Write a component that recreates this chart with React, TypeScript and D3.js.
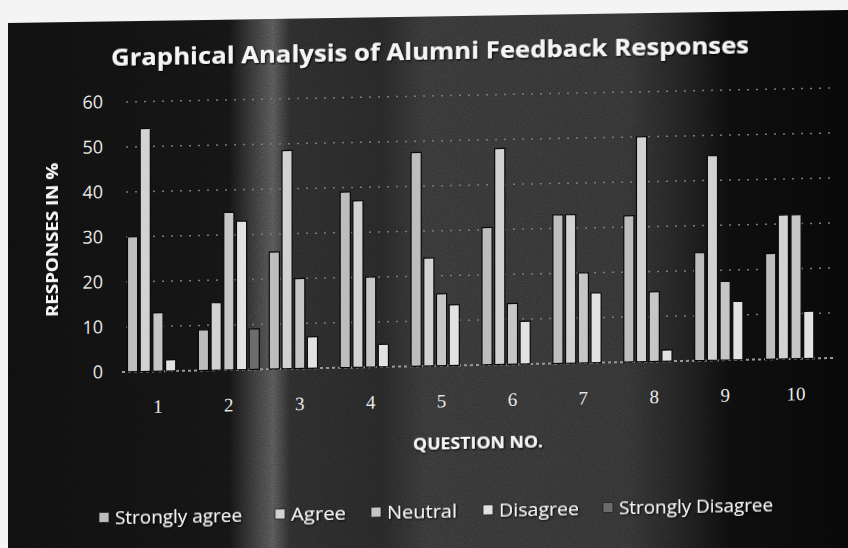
import React from "react";
import * as d3 from "d3";

const questions = ["1", "2", "3", "4", "5", "6", "7", "8", "9", "10"];
const seriesNames = ["Strongly agree", "Agree", "Neutral", "Disagree", "Strongly Disagree"];
const stronglyAgree = [30, 9, 26, 39, 47.5, 30.5, 33, 32.5, 24, 23.5];
const agree = [54, 15, 48.5, 37, 24, 48, 33, 50, 45.5, 32];
const neutral = [13, 35, 20, 20, 16, 13.5, 20, 15.5, 17.5, 32];
const disagree = [2.5, 33, 7, 5, 13.5, 9.5, 15.5, 2.5, 13, 10.5];
const stronglyDisagree = [0, 9, 0, 0, 0, 0, 0, 0, 0, 0];
const yTicks = [0, 10, 20, 30, 40, 50, 60];

const seriesValues = [stronglyAgree, agree, neutral, disagree, stronglyDisagree];
const seriesColors = ["#bdbdbd", "#d2d2d2", "#c6c6c6", "#e2e2e2", "#6c6c6c"];

const W = 848;
const H = 548;

export default function App() {
  const x = d3.scaleBand<string>().domain(questions).range([118, 836]).paddingInner(0.14).paddingOuter(0.1335);
  const xs = d3.scaleBand<string>().domain(seriesNames).range([0, x.bandwidth()]).paddingInner(0.2);
  const y = d3.scaleLinear().domain([0, 60]).range([374.4, 104.4]);

  const legendX = [99, 275, 371, 483, 603];
  const legendW = [127, 55, 70, 80, 154];

  return (
    <svg width={W} height={H} style={{ position: "absolute", left: 0, top: 0, display: "block" }}>
      <defs>
        <linearGradient id="bg" x1="0" x2="1" y1="0" y2="0">
          <stop offset="0" stopColor="#141414" />
          <stop offset="0.27" stopColor="#1b1b1b" />
          <stop offset="0.305" stopColor="#555" />
          <stop offset="0.322" stopColor="#707070" />
          <stop offset="0.342" stopColor="#3a3a3a" />
          <stop offset="0.45" stopColor="#333" />
          <stop offset="0.5" stopColor="#484848" />
          <stop offset="0.74" stopColor="#444" />
          <stop offset="0.81" stopColor="#2a2a2a" />
          <stop offset="0.86" stopColor="#121212" />
          <stop offset="1" stopColor="#0b0b0b" />
        </linearGradient>
        <filter id="noise" x="0" y="0" width="100%" height="100%">
          <feTurbulence type="fractalNoise" baseFrequency="0.9" numOctaves="2" seed="3" />
          <feColorMatrix type="matrix" values="0 0 0 0 0  0 0 0 0 0  0 0 0 0 0  0 0 0 0.35 0" />
        </filter>
        <filter id="glow">
          <feGaussianBlur in="SourceAlpha" stdDeviation="1.2" />
          <feOffset dx="1" dy="1" result="b" />
          <feFlood floodColor="#000" />
          <feComposite in2="b" operator="in" />
          <feMerge>
            <feMergeNode />
            <feMergeNode in="SourceGraphic" />
          </feMerge>
        </filter>
      </defs>
      <rect x={0} y={0} width={W} height={H} fill="url(#bg)" />
      <rect x={0} y={0} width={W} height={H} filter="url(#noise)" />
      <polygon points={`0,0 ${W},0 ${W},10 8,23 8,${H} 0,${H}`} fill="#f4f4f4" />

      <g transform="matrix(1,-0.0197,0,1,0,0)">
        {/* title */}
        <text
          x={111}
          y={68}
          textLength={638}
          lengthAdjust="spacingAndGlyphs"
          fill="#f5f5f5"
          fontFamily="'Open Sans', sans-serif"
          fontWeight="bold"
          fontSize={23}
          filter="url(#glow)"
        >
          Graphical Analysis of Alumni Feedback Responses
        </text>

        {/* gridlines */}
        {yTicks.map((t) => (
          <line
            key={"g" + t}
            x1={t === 0 ? 122 : 126}
            x2={836}
            y1={y(t)}
            y2={y(t)}
            stroke={t === 0 ? "#9a9a9a" : "#7a7a7a"}
            strokeWidth={t === 0 ? 2 : 1.5}
            strokeDasharray={t === 0 ? "3,3" : "2,7"}
          />
        ))}

        {/* y tick labels */}
        {yTicks.map((t) => (
          <text
            key={"t" + t}
            x={103}
            y={y(t) + 6}
            textAnchor="end"
            fill="#e8e8e8"
            fontFamily="'Open Sans', sans-serif"
            fontSize={18}
          >
            {t}
          </text>
        ))}

        {/* bars */}
        {questions.map((q, i) => (
          <g key={q} transform={`translate(${x(q)},0)`}>
            {seriesNames.map((s, j) => {
              const v = seriesValues[j][i];
              if (v <= 0) return null;
              return (
                <rect
                  key={s}
                  x={xs(s)}
                  y={y(v)}
                  width={xs.bandwidth()}
                  height={y(0) - y(v)}
                  fill={seriesColors[j]}
                  stroke="#0a0a0a"
                  strokeWidth={1.2}
                />
              );
            })}
          </g>
        ))}

        {/* x labels */}
        {questions.map((q) => (
          <text
            key={"x" + q}
            x={(x(q) as number) + x.bandwidth() / 2}
            y={416}
            textAnchor="middle"
            fill="#e8e8e8"
            fontFamily="'Liberation Serif', serif"
            fontSize={19}
          >
            {q}
          </text>
        ))}

        {/* axis titles */}
        <text
          x={478}
          y={458}
          textAnchor="middle"
          fill="#f5f5f5"
          fontFamily="'Open Sans', sans-serif"
          fontWeight="bold"
          fontSize={16}
          textLength={130}
          lengthAdjust="spacingAndGlyphs"
          filter="url(#glow)"
        >
          QUESTION NO.
        </text>
        <text
          transform={`translate(58,241) rotate(-90)`}
          textAnchor="middle"
          fill="#f5f5f5"
          fontFamily="'Open Sans', sans-serif"
          fontWeight="bold"
          fontSize={16}
          textLength={154}
          lengthAdjust="spacingAndGlyphs"
          filter="url(#glow)"
        >
          RESPONSES IN %
        </text>

        {/* legend */}
        {seriesNames.map((s, j) => (
          <g key={"l" + s} transform={`translate(${legendX[j]},519.5)`}>
            <rect x={0} y={-5} width={10} height={10} fill={seriesColors[j]} stroke="#222" strokeWidth={0.8} />
            <text
              x={16}
              y={6.5}
              fill="#f0f0f0"
              fontFamily="'Open Sans', sans-serif"
              fontSize={18}
              textLength={legendW[j]}
              lengthAdjust="spacingAndGlyphs"
              filter="url(#glow)"
            >
              {s}
            </text>
          </g>
        ))}
      </g>
    </svg>
  );
}
